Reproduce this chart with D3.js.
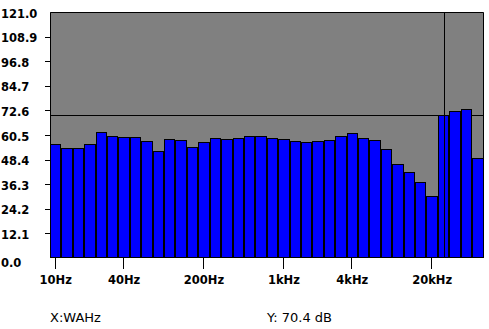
<!DOCTYPE html>
<html>
<head>
<meta charset="utf-8">
<script src="https://cdn.jsdelivr.net/npm/d3@7"></script>
<style>
  html, body { margin: 0; padding: 0; background: #ffffff; }
  svg { display: block; }
</style>
</head>
<body>
<script>
// ---- data ----
const bands = ["10","12.5","16","20","25","31.5","40","50","63","80","100","125","160","200","250","315","400","500","630","800","1k","1.25k","1.6k","2k","2.5k","3.15k","4k","5k","6.3k","8k","10k","12.5k","16k","20k","25k","31.5k","40k","50k"];
const levels = [56.1,54.0,54.0,55.9,61.8,59.9,59.4,59.4,57.4,52.5,58.4,57.9,54.5,56.9,58.9,58.4,58.9,59.9,59.9,58.9,58.4,57.4,56.9,57.4,57.9,59.9,61.3,58.9,57.9,53.5,46.1,42.2,37.2,30.3,70.4,72.2,73.1,49.0];
const xTickBands = ["10","40","200","1k","4k","20k"];
const xTickLabels = ["10Hz","40Hz","200Hz","1kHz","4kHz","20kHz"];
const yTicks = [0,12.1,24.2,36.3,48.4,60.5,72.6,84.7,96.8,108.9,121.0];
const cursorBand = "25k";
const cursorValue = 70.4;
const xInfo = "X:WAHz";
const yInfo = "Y: 70.4 dB";

// ---- layout ----
const W = 489, H = 329;
const pL = 50, pR = 483.5, pT = 12, pB = 258;

const svg = d3.select("body").append("svg").attr("width", W).attr("height", H);

const x = d3.scaleBand().domain(bands).range([pL, pR]).padding(0);
const y = d3.scaleLinear().domain([0, 121]).range([pB, pT]);

// plot background
svg.append("rect")
  .attr("x", pL).attr("y", pT)
  .attr("width", pR - pL).attr("height", pB - pT)
  .attr("fill", "#808080");

// horizontal cursor line (behind bars)
svg.append("line")
  .attr("x1", pL).attr("x2", pR)
  .attr("y1", Math.round(y(cursorValue)) + 0.5).attr("y2", Math.round(y(cursorValue)) + 0.5)
  .attr("stroke", "#000").attr("stroke-width", 1);

// bars
svg.append("g").selectAll("rect").data(bands).join("rect")
  .attr("x", d => Math.round(x(d)) + 0.5)
  .attr("width", d => Math.round(x(d) + x.bandwidth()) - Math.round(x(d)) - 1)
  .attr("y", (d, i) => Math.round(y(levels[i])) + 0.5)
  .attr("height", (d, i) => Math.round(y(0)) - Math.round(y(levels[i])) - 1)
  .attr("fill", "#0000ff")
  .attr("stroke", "#000")
  .attr("stroke-width", 1);

// vertical cursor line
const cx = Math.round(x(cursorBand) + x.bandwidth() / 2) + 0.5;
svg.append("line")
  .attr("x1", cx).attr("x2", cx)
  .attr("y1", pT).attr("y2", pB)
  .attr("stroke", "#000").attr("stroke-width", 1);

// frame: top, left, right
svg.append("path")
  .attr("d", `M${pL + 0.5},${pB}V${pT + 0.5}H${pR}V${pB}`)
  .attr("fill", "none").attr("stroke", "#000").attr("stroke-width", 1);

// y ticks & labels
const yg = svg.append("g");
yg.selectAll("line").data(yTicks.filter(v => v > 0 && v < 121)).join("line")
  .attr("x1", pL - 5).attr("x2", pL)
  .attr("y1", d => Math.round(y(d)) + 0.5).attr("y2", d => Math.round(y(d)) + 0.5)
  .attr("stroke", "#000");
yg.selectAll("text").data(yTicks).join("text")
  .attr("x", 1)
  .attr("y", d => y(d) + (d === 0 ? 9 : 5.5))
  .attr("font-family", "DejaVu Sans")
  .attr("font-weight", "bold")
  .attr("font-size", "11.5px")
  .attr("fill", "#000")
  .text(d => d.toFixed(1));

// x ticks & labels
const xg = svg.append("g");
xg.selectAll("line").data(xTickBands).join("line")
  .attr("x1", d => Math.round(x(d) + x.bandwidth() / 2) - 0.5)
  .attr("x2", d => Math.round(x(d) + x.bandwidth() / 2) - 0.5)
  .attr("y1", pB).attr("y2", pB + 11)
  .attr("stroke", "#000");
xg.selectAll("text").data(xTickBands).join("text")
  .attr("x", d => x(d) + x.bandwidth() / 2)
  .attr("y", pB + 25.5)
  .attr("text-anchor", "middle")
  .attr("font-family", "DejaVu Sans")
  .attr("font-weight", "bold")
  .attr("font-size", "11.5px")
  .attr("fill", "#000")
  .text((d, i) => xTickLabels[i]);

// info texts
svg.append("text")
  .attr("x", pL).attr("y", 322)
  .attr("font-family", "DejaVu Sans").attr("font-size", "13px").attr("fill", "#000")
  .text(xInfo);
svg.append("text")
  .attr("x", 267).attr("y", 322)
  .attr("font-family", "DejaVu Sans").attr("font-size", "13px").attr("fill", "#000")
  .text(yInfo);
</script>
</body>
</html>
